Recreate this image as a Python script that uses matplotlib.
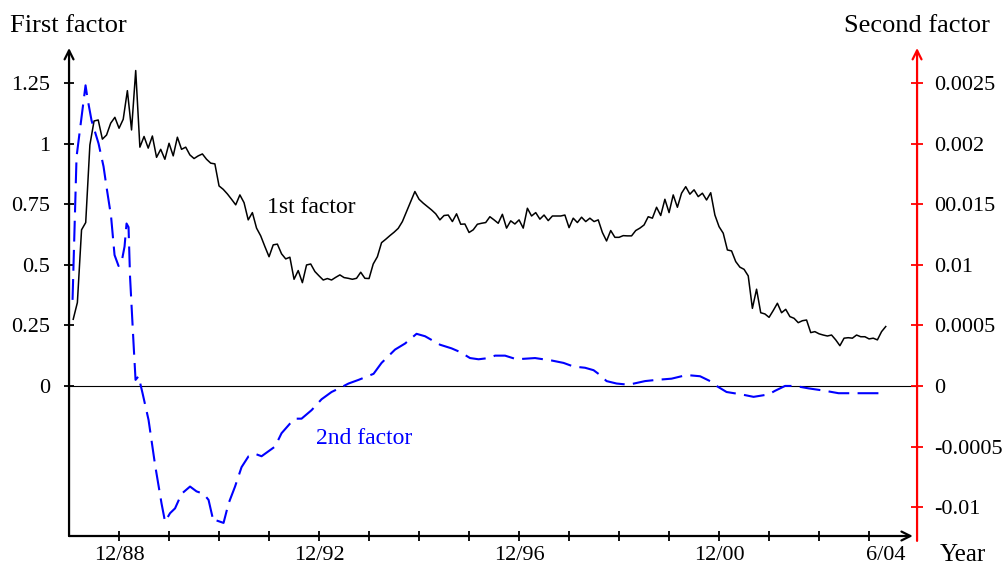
import numpy as np
from matplotlib import pyplot as plt

plt.rcParams['font.family'] = ['Liberation Serif', 'DejaVu Serif']

# first factor, monthly from 2/88
first = [0.275, 0.344, 0.644, 0.674, 0.994, 1.093, 1.097, 1.018, 1.035, 1.084, 1.108, 1.063,
         1.100, 1.218, 1.056, 1.301, 0.985, 1.029, 0.981, 1.031, 0.943, 0.976, 0.935, 1.001,
         0.949, 1.026, 0.976, 0.985, 0.953, 0.938, 0.949, 0.957, 0.935, 0.919,
         0.916, 0.825, 0.811, 0.792, 0.770, 0.747, 0.788, 0.756, 0.685, 0.715, 0.651, 0.619,
         0.575, 0.533, 0.582, 0.585, 0.545, 0.524, 0.531, 0.440, 0.476, 0.426, 0.499, 0.503,
         0.472, 0.454, 0.437, 0.443, 0.437, 0.448, 0.458, 0.447, 0.444,
         0.440, 0.444, 0.469, 0.444, 0.443, 0.503, 0.533, 0.591, 0.605, 0.620, 0.634, 0.650,
         0.678, 0.719, 0.760, 0.802, 0.770, 0.754, 0.740, 0.726, 0.710, 0.685, 0.703, 0.705,
         0.678, 0.710, 0.667, 0.668, 0.633, 0.644, 0.667, 0.671, 0.674, 0.698,
         0.685, 0.671, 0.708, 0.651, 0.681, 0.668, 0.685, 0.651, 0.733, 0.701, 0.715, 0.688,
         0.705, 0.682, 0.701, 0.701, 0.701, 0.705, 0.653, 0.692, 0.674, 0.696, 0.678, 0.692,
         0.678, 0.685, 0.633, 0.598, 0.641, 0.613, 0.613, 0.620, 0.619, 0.619,
         0.641, 0.651, 0.664, 0.698, 0.692, 0.737, 0.703, 0.770, 0.715, 0.788, 0.737, 0.795,
         0.822, 0.791, 0.809, 0.781, 0.795, 0.767, 0.797, 0.705, 0.657, 0.630, 0.561, 0.557,
         0.513, 0.490, 0.481, 0.454, 0.320, 0.399, 0.302, 0.297, 0.283,
         0.311, 0.341, 0.302, 0.316, 0.286, 0.279, 0.261, 0.269, 0.272, 0.220, 0.224, 0.215,
         0.210, 0.206, 0.210, 0.190, 0.166, 0.197, 0.199, 0.197, 0.210, 0.203, 0.203, 0.194,
         0.197, 0.190, 0.224, 0.245]
months = 1988 + (np.arange(len(first)) + 1) / 12.0

# second factor (smoothed), sampled in decimal years
t2 = [1988.07, 1988.15, 1988.33, 1988.37, 1988.45, 1988.59, 1988.69, 1988.75, 1988.84, 1988.91,
      1988.99, 1989.05, 1989.11, 1989.15, 1989.19, 1989.22, 1989.29, 1989.33, 1989.39, 1989.47,
      1989.59, 1989.72, 1989.85, 1989.92, 1990.02, 1990.12, 1990.25, 1990.42, 1990.55, 1990.69,
      1990.79, 1990.89, 1990.95, 1991.02, 1991.09, 1991.19, 1991.32, 1991.45, 1991.59, 1991.72,
      1991.85, 1992.12, 1992.25, 1992.42, 1992.52, 1992.65, 1992.85, 1993.05, 1993.25, 1993.45,
      1993.59, 1993.79, 1994.09, 1994.25, 1994.52, 1994.72, 1994.95, 1995.12, 1995.42, 1995.65,
      1995.82, 1996.02, 1996.19, 1996.39, 1996.52, 1996.72, 1996.95, 1997.32, 1997.65, 1997.89,
      1998.09, 1998.32, 1998.49, 1998.62, 1998.75, 1998.95, 1999.19, 1999.52, 1999.75, 2000.05,
      2000.35, 2000.62, 2000.82, 2000.95, 2001.15, 2001.45, 2001.69, 2001.99, 2002.12, 2002.32,
      2002.52, 2002.79, 2003.12, 2003.39, 2003.65, 2003.92, 2004.19, 2004.30]
second = [0.00071, 0.00189, 0.00248, 0.00237, 0.00219, 0.00200, 0.00181, 0.00164, 0.00140, 0.00108,
          0.00099, 0.00102, 0.00115, 0.00134, 0.00131, 0.00090, 0.00035, 0.00005, 0.00008, -0.00006,
          -0.00028, -0.00065, -0.00097, -0.00112, -0.00105, -0.00101, -0.00089, -0.00083, -0.00087, -0.00089,
          -0.00094, -0.00112, -0.00111, -0.00112, -0.00113, -0.00097, -0.00083, -0.00067, -0.00058, -0.00056,
          -0.00058, -0.00050, -0.00039, -0.00031, -0.00027, -0.00027, -0.00020, -0.00011, -0.00005, -0.00001,
          0.00002, 0.00005, 0.00010, 0.00019, 0.00030, 0.00035, 0.00043, 0.00041, 0.00034, 0.00031,
          0.00028, 0.00023, 0.00022, 0.00023, 0.00025, 0.00025, 0.00022, 0.00023, 0.00021, 0.00019,
          0.00016, 0.00015, 0.00013, 0.00009, 0.00004, 0.00002, 0.00001, 0.00004, 0.00005, 0.00006,
          0.00009, 0.00008, 0.00004, 0.00000, -0.00005, -0.00007, -0.00009, -0.00007, -0.00004, 0.00000,
          0.00000, -0.00002, -0.00004, -0.00006, -0.00006, -0.00006, -0.00006, -0.00004]

left_ticks = [0, 0.25, 0.5, 0.75, 1, 1.25]
left_labels = ['0', '0.25', '0.5', '0.75', '1', '1.25']
right_ticks = [0.0025, 0.002, 0.0015, 0.001, 0.0005, 0, -0.0005, -0.001]
right_labels = ['0.0025', '0.002', '00.015', '0.01', '0.0005', '0', '-0.0005', '-0.01']
year_ticks = list(range(1989, 2005))
year_labels = {1989: '12/88', 1993: '12/92', 1997: '12/96', 2001: '12/00'}

ylo, yhi = -0.619, 1.394
scale2 = 0.002

fig = plt.figure(figsize=(10.05, 5.66), dpi=100)
ax = fig.add_axes([0.0687, 0.053, 0.8438, 0.8622])
ax2 = ax.twinx()

ax.plot(months, first, color='black', lw=1.1)
ax.axhline(0, color='black', lw=0.8)
ax2.plot(t2, second, color='blue', lw=1.5, dashes=(10, 4))

ax.set_xlim(1988.0, 2004.96)
ax.set_ylim(ylo, yhi)
ax2.set_ylim(ylo * scale2, yhi * scale2)

for a in (ax, ax2):
    for s in a.spines.values():
        s.set_visible(False)
ax.patch.set_visible(False)

# axes drawn as arrows
arrow = dict(arrowstyle='->', lw=1.6, shrinkA=0, shrinkB=0, mutation_scale=16)
ax.annotate('', xy=(0, 1), xytext=(0, 0), xycoords='axes fraction',
            arrowprops=dict(arrow, color='black'))
ax.annotate('', xy=(0.995, 0), xytext=(0, 0), xycoords='axes fraction',
            arrowprops=dict(arrow, color='black'))
ax.annotate('', xy=(1, 1), xytext=(1, -0.01), xycoords='axes fraction',
            arrowprops=dict(arrow, color='red'))

ax.set_yticks(left_ticks)
ax.set_yticklabels(left_labels)
ax.tick_params(axis='y', direction='inout', length=7, width=1.3, pad=10, labelsize=16)

ax.set_xticks(year_ticks)
ax.set_xticklabels([year_labels.get(y, '') for y in year_ticks])
ax.set_xticks([months[-1]], minor=True)
ax.set_xticklabels(['6/04'], minor=True)
ax.tick_params(axis='x', which='major', direction='inout', length=7, width=1.3, pad=4, labelsize=16)
ax.tick_params(axis='x', which='minor', length=0, pad=7.5, labelsize=16)

ax2.set_yticks(right_ticks)
ax2.set_yticklabels(right_labels)
ax2.tick_params(axis='y', direction='inout', length=8, width=1.3, color='red', pad=8, labelsize=16)

ax.text(1991.96, 0.714, '1st factor', fontsize=17, color='black', ha='left', va='baseline')
ax.text(1992.94, -0.239, '2nd factor', fontsize=17, color='blue', ha='left', va='baseline')

fig.text(10 / 1005, 1 - 32 / 566, 'First factor', fontsize=19, ha='left', va='baseline')
fig.text(990 / 1005, 1 - 32 / 566, 'Second factor', fontsize=19, ha='right', va='baseline')
fig.text(940 / 1005, 1 - 561 / 566, 'Year', fontsize=18, ha='left', va='baseline')

plt.savefig('out.png', dpi=100)
